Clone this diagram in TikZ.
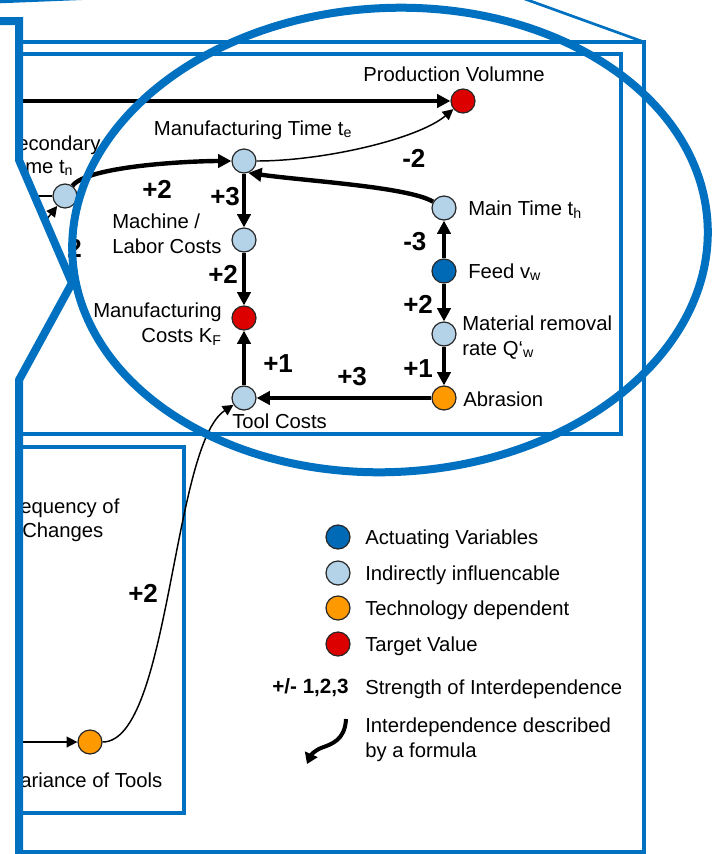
\documentclass[tikz,border=0pt]{standalone}
\usepackage{fontspec}
\setmainfont{Liberation Sans}
\usetikzlibrary{arrows.meta}
\definecolor{frameblue}{RGB}{0,112,192}
\definecolor{lightnode}{RGB}{180,210,232}
\definecolor{darknode}{RGB}{0,106,182}
\definecolor{technode}{RGB}{255,153,0}
\definecolor{targetnode}{RGB}{221,0,0}

\begin{document}
\begin{tikzpicture}[x=0.75pt, y=-0.75pt, font=\fontsize{15.2}{18.3}\selectfont,
    every node/.style={inner sep=0pt},
    var/.style={circle, draw=black!85, line width=0.9pt, minimum size=18pt},
    act/.style={var, fill=darknode},
    ind/.style={var, fill=lightnode},
    tech/.style={var, fill=technode},
    tgt/.style={var, fill=targetnode},
    wt/.style={anchor=base west, font=\bfseries\fontsize{19.5}{22}\selectfont},
    txt/.style={anchor=base west, align=left},
    strong/.style={line width=3.3pt, -{Triangle[width=10pt,length=10pt]}},
    weak/.style={line width=1.1pt, -{Triangle[width=8pt,length=8pt]}},
    thinframe/.style={draw=frameblue, line width=3pt}]
        \useasboundingbox (0,0) rectangle (713,854);

        \begin{scope}
        \clip (19,-20) -- (19,160) -- (72,283) -- (19,380) -- (19,900) -- (750,900) -- (750,-20) -- cycle;
        \draw[thinframe] (19,42) rectangle (644,852);
        \draw[thinframe] (19,54) rectangle (621,434);
        \draw[thinframe] (19,447) rectangle (184,813);

        \node[tgt] (pv) at (463,101) {};
        \node[ind] (mte) at (244,161) {};
        \node[ind] (sec) at (65,196) {};
        \node[ind] (mlc) at (244,240) {};
        \node[tgt] (mfc) at (244,318) {};
        \node[ind] (tool) at (244,398) {};
        \node[ind] (main) at (444,208) {};
        \node[act] (feed) at (444,271) {};
        \node[ind] (mrr) at (444,334) {};
        \node[tech] (abr) at (444,398) {};
        \node[tech] (var) at (90,742) {};

        \node[anchor=base] (pvtext) at (454,81) {Production Volumne};
        \node[anchor=base] (mtetext) at (253,135) {Manufacturing Time t\textsubscript{e}};
        \node[txt] (sectexta) at (17,150) {econdary};
        \node[txt] (sectextb) at (25,173) {me t\textsubscript{n}};
        \node[txt] (mlctext) at (112,253) {Machine /\\Labor Costs};
        \node[anchor=base east, align=right] (mfctext) at (222,342) {Manufacturing\\Costs K\textsubscript{F}};
        \node[txt] (tooltext) at (232,428) {Tool Costs};
        \node[txt] (maintext) at (468,215) {Main Time t\textsubscript{h}};
        \node[txt] (feedtext) at (468,278) {Feed v\textsubscript{w}};
        \node[txt] (mrrtext) at (462,355) {Material removal\\rate Q‘\textsubscript{w}};
        \node[txt] (abrtext) at (463,406) {Abrasion};
        \node[txt] (freqtexta) at (20,513) {equency of};
        \node[txt] (freqtextb) at (22,537) {Changes};
        \node[txt] (vartext) at (20,787) {ariance of Tools};

        \coordinate (pvin) at (0,101);
        \coordinate (secin) at (0,196);
        \coordinate (secup) at (18,256);
        \coordinate (varin) at (0,742);
        \draw[strong] (pvin) -- (pv);
        \draw[line width=1.1pt] (secin) -- (sec);
        \draw[weak] (secup) -- (sec);
        \draw[strong] (sec) .. controls +(22,-30) and +(-55,0) .. (mte);
        \draw[weak] (mte) .. controls +(80,0) and +(-45,38) .. (pv);
        \draw[strong] (main.150) .. controls +(-25,-15) and +(55,8) .. (mte.-70);
        \draw[strong] (mte) -- (mlc);
        \draw[strong] (mlc) -- (mfc);
        \draw[strong] (tool) -- (mfc);
        \draw[strong] (abr) -- (tool);
        \draw[strong] (feed) -- (main);
        \draw[strong] (feed) -- (mrr);
        \draw[strong] (mrr) -- (abr);
        \draw[weak] (varin) -- (var);
        \draw[weak] (var) .. controls +(80,0) and +(-72,47) .. (tool);

        \node[wt] (wsec) at (67,257) {2};
        \node[wt] (wsecmte) at (142,198) {+2};
        \node[wt] (wmtepv) at (402,167) {-2};
        \node[wt] (wmtemlc) at (210,205) {+3};
        \node[wt] (wmlcmfc) at (208,283) {+2};
        \node[wt] (wtoolmfc) at (263,372) {+1};
        \node[wt] (wabrtool) at (337,385) {+3};
        \node[wt] (wfeedmain) at (403,250) {-3};
        \node[wt] (wfeedmrr) at (403,313) {+2};
        \node[wt] (wmrrabr) at (403,377) {+1};
        \node[wt] (wvartool) at (128,602) {+2};

        \node[act] (lgact) at (338,537) {};
        \node[ind] (lgind) at (338,573) {};
        \node[tech] (lgtech) at (338,608) {};
        \node[tgt] (lgtgt) at (338,644) {};
        \node[txt] (lgacttext) at (365,544) {Actuating Variables};
        \node[txt] (lgindtext) at (365,580) {Indirectly influencable};
        \node[txt] (lgtechtext) at (365,615) {Technology dependent};
        \node[txt] (lgtgttext) at (365,651) {Target Value};
        \node[anchor=base east, font=\bfseries\fontsize{15.5}{18}\selectfont] (lgw) at (349,693) {+/- 1,2,3};
        \node[txt] (lgwtext) at (365,694) {Strength of Interdependence};
        \node[txt] (lgftext) at (365,757) {Interdependence described\\by a formula};
        \coordinate (fa) at (346,719);
        \coordinate (fb) at (307,764);
        \draw[line width=3pt, -{Triangle[width=10pt,length=8pt]}] (fa) .. controls (345,740) and (332,744) .. (321,748) .. controls (314,751) and (311,755) .. (fb);
        \end{scope}

        \draw[frameblue, line width=6pt, rotate around={3:(390,240)}] (390,240) ellipse [x radius=318, y radius=232];
        \draw[frameblue, line width=6pt] (-10,21) -- (19,21) -- (19,160) -- (72,283) -- (19,380) -- (19,870);
        \draw[frameblue, line width=2pt] (644,42) -- (500,-10);
        \draw[frameblue, line width=2.5pt] (-10,2) -- (90,-2);
    \end{tikzpicture}
\end{document}
